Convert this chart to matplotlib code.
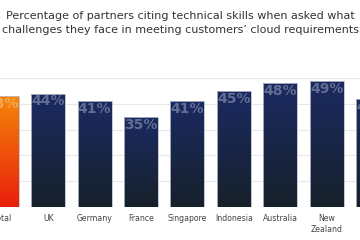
import numpy as np
import matplotlib
matplotlib.use('Agg')
import matplotlib.pyplot as plt
from matplotlib.colors import LinearSegmentedColormap

# data
countries = ['Total', 'UK', 'Germany', 'France', 'Singapore', 'Indonesia',
             'Australia', 'New\nZealand', 'India']
pct = [43, 44, 41, 35, 41, 45, 48, 49, 42]

title = ('Percentage of partners citing technical skills when asked what\n'
         'challenges they face in meeting customers\u2019 cloud requirements')

navy = LinearSegmentedColormap.from_list('navy', ['#17212b', '#1b2a62'])
orange = LinearSegmentedColormap.from_list('orange', ['#e81e0c', '#f5860a'])

fig = plt.figure(figsize=(3.6, 2.4), dpi=100)
ax = fig.add_axes([0, 0.139, 1, 0.535])

x = np.arange(len(countries))
w = 0.73
bars = ax.bar(x, pct, width=w, color='none', edgecolor='#b9bdcc',
              linewidth=0.6, zorder=3)

grad = np.linspace(0, 1, 256).reshape(-1, 1)
for i, b in enumerate(bars):
    cmap = orange if i == 0 else navy
    x0, y0 = b.get_x(), b.get_y()
    im = ax.imshow(grad, cmap=cmap, origin='lower', aspect='auto',
                   extent=[x0, x0 + b.get_width(), y0, y0 + b.get_height()],
                   zorder=2)
    im.set_clip_path(b)
    ax.text(b.get_x() + b.get_width() / 2, b.get_height() - 0.3, f'{pct[i]}%',
            ha='center', va='top', fontsize=10, fontweight='bold',
            color='white', alpha=0.32, zorder=4)

ax.set_yticks([0, 10, 20, 30, 40, 50])
ax.yaxis.grid(True, color='#e8e8e8', linewidth=0.8, zorder=0)
ax.set_axisbelow(True)
ax.tick_params(axis='y', left=False, labelleft=False)
ax.tick_params(axis='x', length=0, pad=5, labelsize=5.6, labelcolor='#444444')
ax.set_xticks(x)
ax.set_xticklabels(countries, linespacing=1.3)
# limits after the ticks, or set_xticks widens the view again
ax.set_xlim(-0.039, 7.72)
ax.set_ylim(0, 50)
for s in ax.spines.values():
    s.set_visible(False)

fig.text(0.5, 0.955, title, ha='center', va='top', fontsize=8.0,
         color='#333333', linespacing=1.55)

fig.savefig('out.png', dpi=100)
